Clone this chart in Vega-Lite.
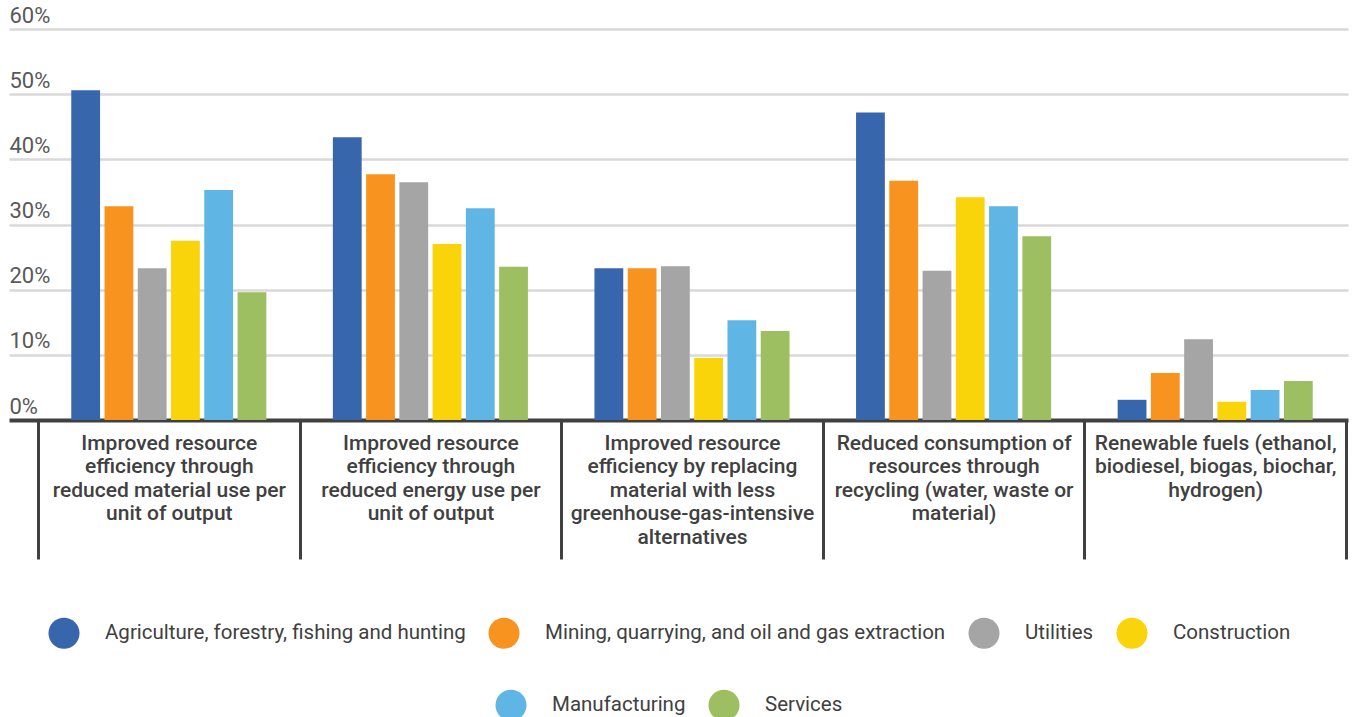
{
  "$schema": "https://vega.github.io/schema/vega-lite/v6.json",
  "width": 1339,
  "height": 391,
  "autosize": {"type": "none"},
  "padding": {"left": 9, "top": 29, "right": 5, "bottom": 297},
  "background": "white",
  "config": {
    "view": {"stroke": null},
    "font": "Roboto",
    "axis": {"labelFont": "Roboto"},
    "legend": {"labelFont": "Roboto"}
  },
  "data": {
    "values": [
      {"practice": "Improved resource|efficiency through|reduced material use per|unit of output", "sector": "Agriculture, forestry, fishing and hunting", "share": 50.6},
      {"practice": "Improved resource|efficiency through|reduced material use per|unit of output", "sector": "Mining, quarrying, and oil and gas extraction", "share": 32.8},
      {"practice": "Improved resource|efficiency through|reduced material use per|unit of output", "sector": "Utilities", "share": 23.3},
      {"practice": "Improved resource|efficiency through|reduced material use per|unit of output", "sector": "Construction", "share": 27.5},
      {"practice": "Improved resource|efficiency through|reduced material use per|unit of output", "sector": "Manufacturing", "share": 35.3},
      {"practice": "Improved resource|efficiency through|reduced material use per|unit of output", "sector": "Services", "share": 19.6},

      {"practice": "Improved resource|efficiency through|reduced energy use per|unit of output", "sector": "Agriculture, forestry, fishing and hunting", "share": 43.4},
      {"practice": "Improved resource|efficiency through|reduced energy use per|unit of output", "sector": "Mining, quarrying, and oil and gas extraction", "share": 37.7},
      {"practice": "Improved resource|efficiency through|reduced energy use per|unit of output", "sector": "Utilities", "share": 36.5},
      {"practice": "Improved resource|efficiency through|reduced energy use per|unit of output", "sector": "Construction", "share": 27.0},
      {"practice": "Improved resource|efficiency through|reduced energy use per|unit of output", "sector": "Manufacturing", "share": 32.5},
      {"practice": "Improved resource|efficiency through|reduced energy use per|unit of output", "sector": "Services", "share": 23.5},

      {"practice": "Improved resource|efficiency by replacing|material with less|greenhouse-gas-intensive|alternatives", "sector": "Agriculture, forestry, fishing and hunting", "share": 23.3},
      {"practice": "Improved resource|efficiency by replacing|material with less|greenhouse-gas-intensive|alternatives", "sector": "Mining, quarrying, and oil and gas extraction", "share": 23.3},
      {"practice": "Improved resource|efficiency by replacing|material with less|greenhouse-gas-intensive|alternatives", "sector": "Utilities", "share": 23.6},
      {"practice": "Improved resource|efficiency by replacing|material with less|greenhouse-gas-intensive|alternatives", "sector": "Construction", "share": 9.5},
      {"practice": "Improved resource|efficiency by replacing|material with less|greenhouse-gas-intensive|alternatives", "sector": "Manufacturing", "share": 15.3},
      {"practice": "Improved resource|efficiency by replacing|material with less|greenhouse-gas-intensive|alternatives", "sector": "Services", "share": 13.65},

      {"practice": "Reduced consumption of|resources through|recycling (water, waste or|material)", "sector": "Agriculture, forestry, fishing and hunting", "share": 47.2},
      {"practice": "Reduced consumption of|resources through|recycling (water, waste or|material)", "sector": "Mining, quarrying, and oil and gas extraction", "share": 36.7},
      {"practice": "Reduced consumption of|resources through|recycling (water, waste or|material)", "sector": "Utilities", "share": 22.9},
      {"practice": "Reduced consumption of|resources through|recycling (water, waste or|material)", "sector": "Construction", "share": 34.2},
      {"practice": "Reduced consumption of|resources through|recycling (water, waste or|material)", "sector": "Manufacturing", "share": 32.8},
      {"practice": "Reduced consumption of|resources through|recycling (water, waste or|material)", "sector": "Services", "share": 28.2},

      {"practice": "Renewable fuels (ethanol,|biodiesel, biogas, biochar,|hydrogen)", "sector": "Agriculture, forestry, fishing and hunting", "share": 3.1},
      {"practice": "Renewable fuels (ethanol,|biodiesel, biogas, biochar,|hydrogen)", "sector": "Mining, quarrying, and oil and gas extraction", "share": 7.2},
      {"practice": "Renewable fuels (ethanol,|biodiesel, biogas, biochar,|hydrogen)", "sector": "Utilities", "share": 12.4},
      {"practice": "Renewable fuels (ethanol,|biodiesel, biogas, biochar,|hydrogen)", "sector": "Construction", "share": 2.8},
      {"practice": "Renewable fuels (ethanol,|biodiesel, biogas, biochar,|hydrogen)", "sector": "Manufacturing", "share": 4.6},
      {"practice": "Renewable fuels (ethanol,|biodiesel, biogas, biochar,|hydrogen)", "sector": "Services", "share": 6.0}
    ]
  },
  "encoding": {
    "x": {
      "field": "practice",
      "type": "nominal",
      "sort": null,
      "scale": {"paddingInner": 0, "paddingOuter": 0.0593, "align": 0.935},
      "axis": {
        "title": null,
        "orient": "bottom",
        "domain": false,
        "grid": false,
        "tickBand": "extent",
        "tickSize": 139,
        "tickWidth": 3,
        "tickColor": "#404040",
        "labelExpr": "isValid(datum.value) ? split(datum.value, '|') : ''",
        "labelAngle": 0,
        "labelOverlap": false,
        "labelFontSize": 21,
        "labelFontWeight": 500,
        "labelColor": "#404040",
        "labelLineHeight": 23.5,
        "labelBaseline": "top",
        "labelPadding": -127,
        "labelLimit": 320
      }
    },
    "xOffset": {
      "field": "sector",
      "type": "nominal",
      "scale": {
        "domain": [
          "Agriculture, forestry, fishing and hunting",
          "Mining, quarrying, and oil and gas extraction",
          "Utilities",
          "Construction",
          "Manufacturing",
          "Services"
        ],
        "paddingInner": 0.134,
        "paddingOuter": 1.79
      }
    },
    "y": {
      "field": "share",
      "type": "quantitative",
      "scale": {"domain": [0, 60], "nice": false},
      "axis": {
        "title": null,
        "values": [0, 10, 20, 30, 40, 50, 60],
        "domain": false,
        "ticks": false,
        "tickSize": 0,
        "grid": true,
        "gridColor": {"condition": {"test": "datum.value === 0", "value": "#404040"}, "value": "#D9D9D9"},
        "gridWidth": {"condition": {"test": "datum.value === 0", "value": 4}, "value": 2.5},
        "labelExpr": "datum.value + '%'",
        "labelAlign": "left",
        "labelBaseline": "alphabetic",
        "labelPadding": 0,
        "labelOffset": -7,
        "labelFontSize": 22,
        "labelColor": "#595959"
      }
    }
  },
  "layer": [
    {
      "transform": [
        {"filter": {"field": "sector", "oneOf": ["Agriculture, forestry, fishing and hunting", "Mining, quarrying, and oil and gas extraction", "Utilities", "Construction"]}}
      ],
      "mark": {"type": "bar"},
      "encoding": {
        "color": {
          "field": "sector",
          "type": "nominal",
          "scale": {
            "domain": ["Agriculture, forestry, fishing and hunting", "Mining, quarrying, and oil and gas extraction", "Utilities", "Construction"],
            "range": ["#3866AC", "#F7931E", "#A5A5A5", "#FAD40A"]
          },
          "legend": {
            "orient": "none",
            "legendX": 39,
            "legendY": 588,
            "direction": "horizontal",
            "title": null,
            "padding": 0,
            "symbolType": "circle",
            "symbolSize": 962,
            "symbolStrokeWidth": 0,
            "labelFontSize": 20.5,
            "labelColor": "#404040",
            "labelOffset": 25,
            "columnPadding": 22,
            "labelLimit": 600
          }
        }
      }
    },
    {
      "transform": [
        {"filter": {"field": "sector", "oneOf": ["Manufacturing", "Services"]}}
      ],
      "mark": {"type": "bar"},
      "encoding": {
        "fill": {
          "field": "sector",
          "type": "nominal",
          "scale": {
            "domain": ["Manufacturing", "Services"],
            "range": ["#5FB6E5", "#9DBF62"]
          },
          "legend": {
            "orient": "none",
            "legendX": 486,
            "legendY": 660,
            "direction": "horizontal",
            "title": null,
            "padding": 0,
            "symbolType": "circle",
            "symbolSize": 962,
            "symbolStrokeWidth": 0,
            "labelFontSize": 20.5,
            "labelColor": "#404040",
            "labelOffset": 25,
            "columnPadding": 22,
            "labelLimit": 600
          }
        }
      }
    }
  ]
}
